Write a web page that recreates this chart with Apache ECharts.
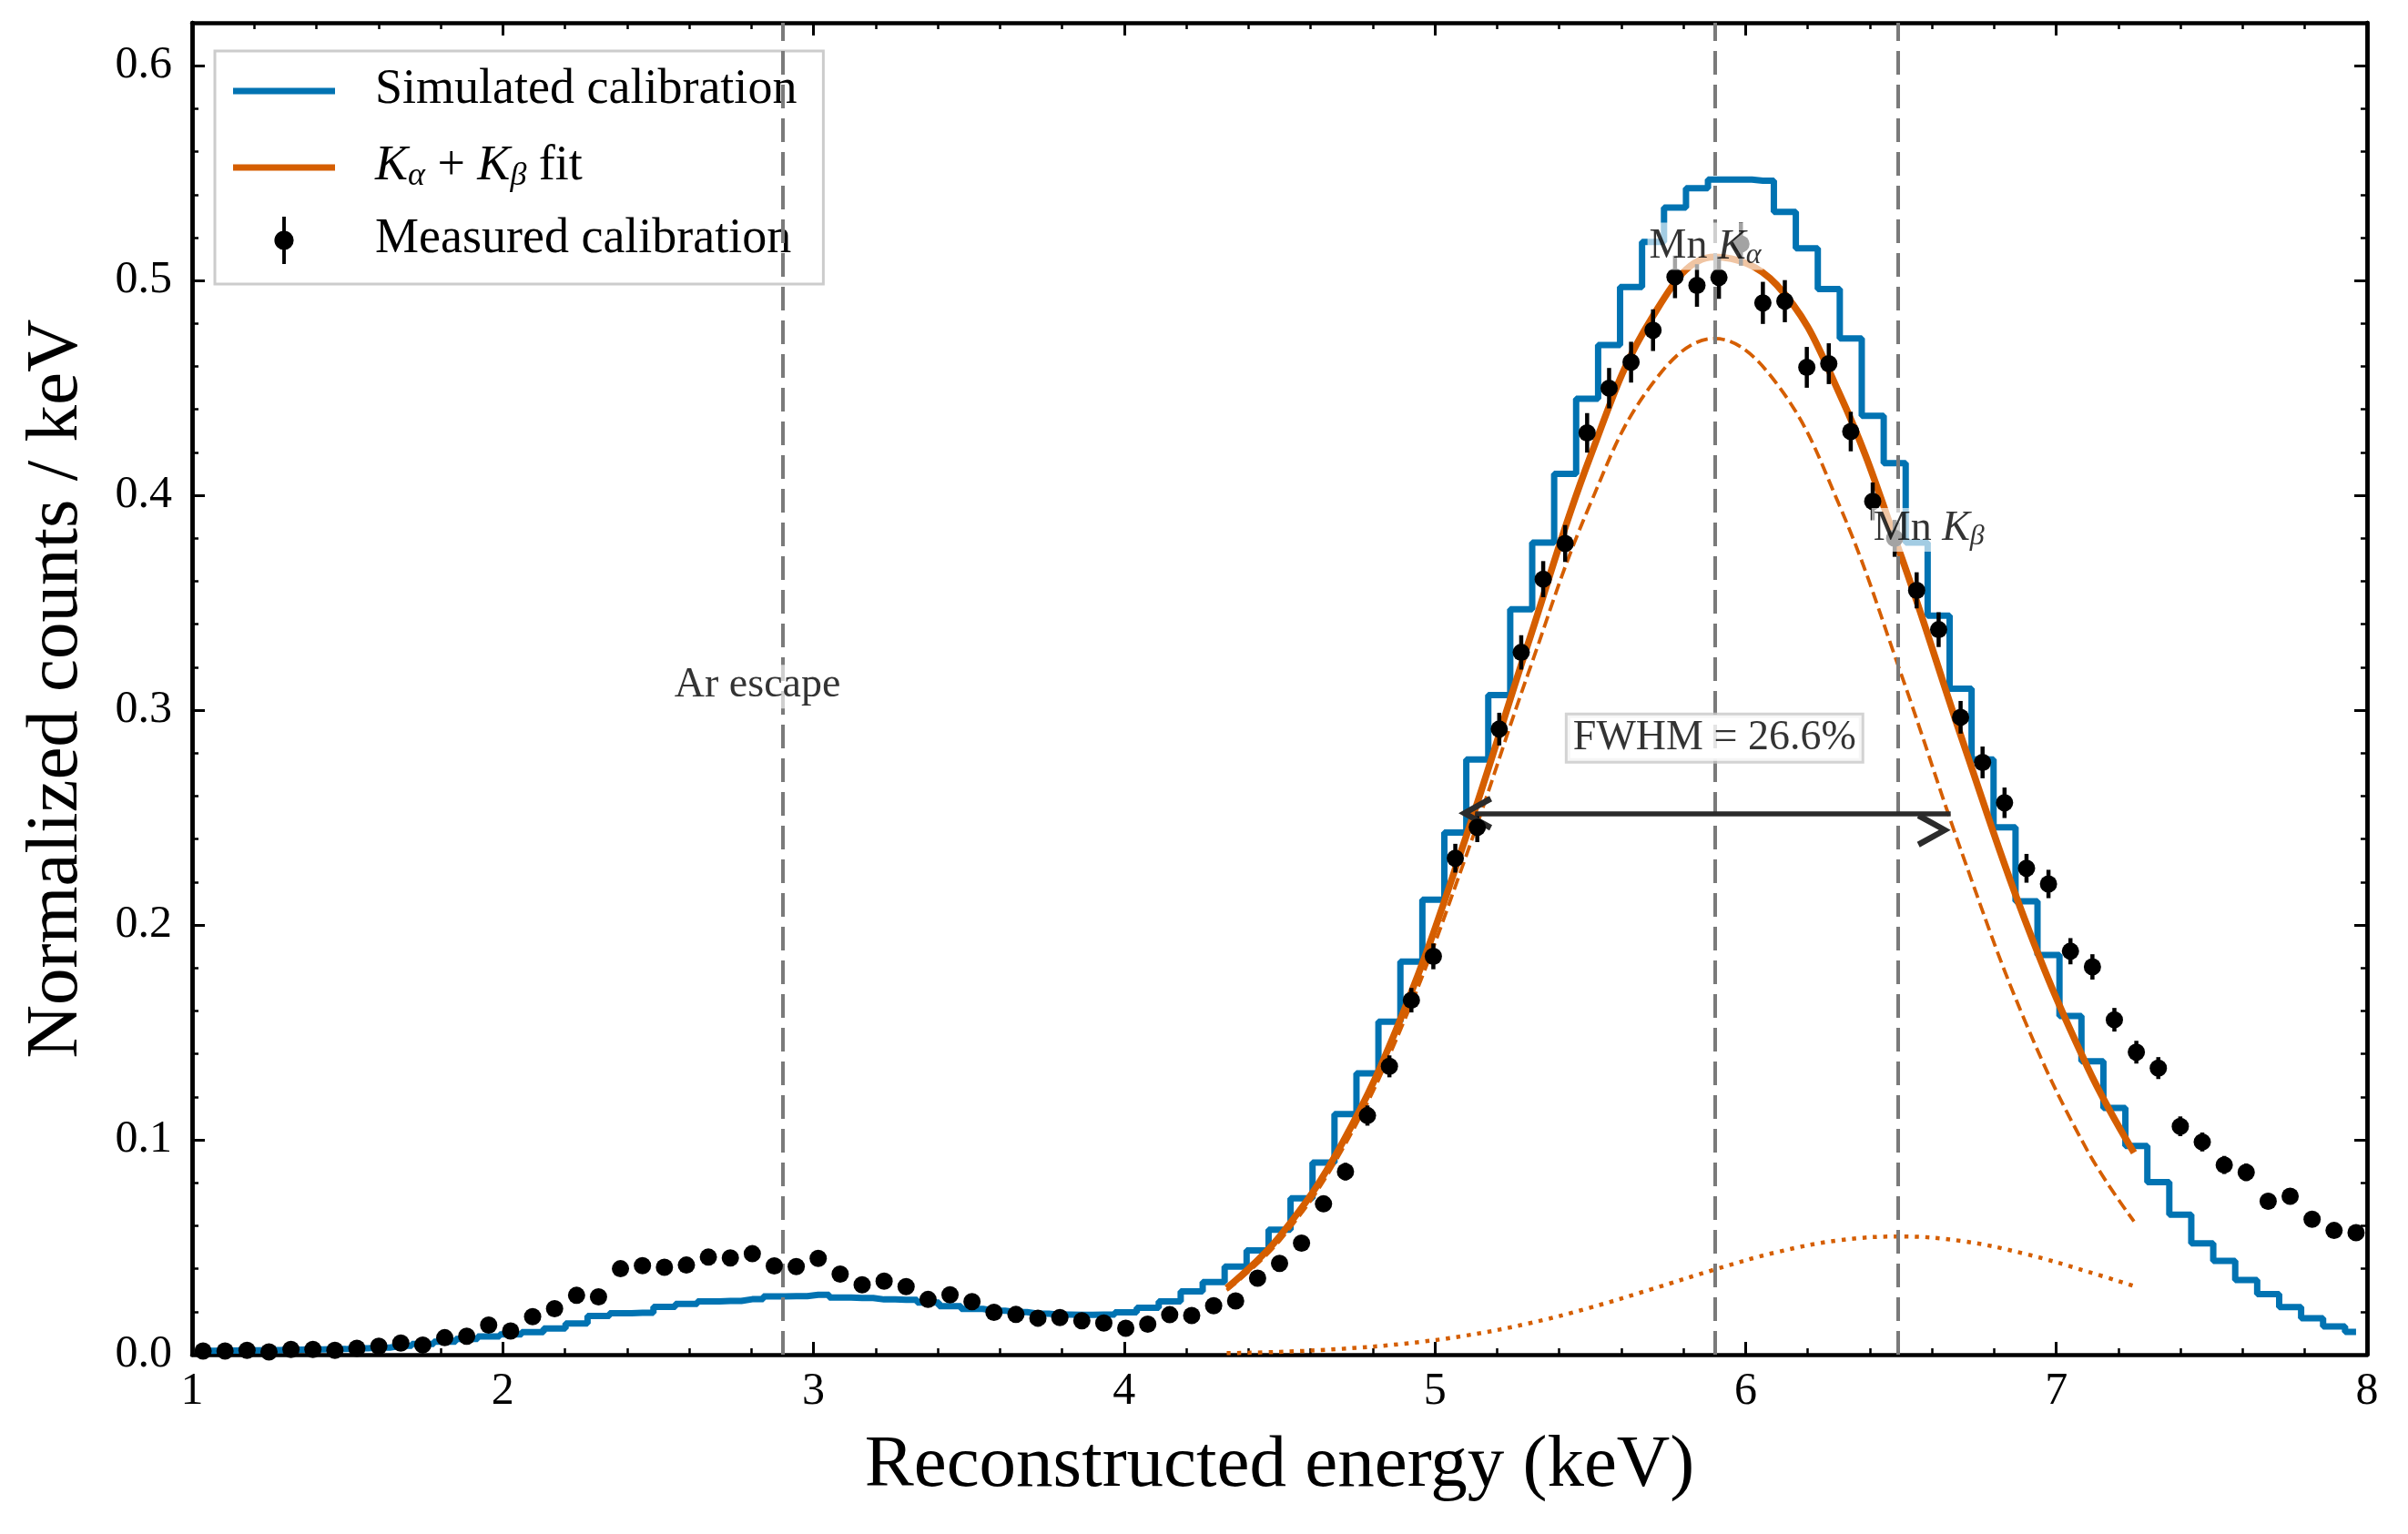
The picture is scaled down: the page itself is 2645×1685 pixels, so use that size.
<!DOCTYPE html>
<html>
<head>
<meta charset="utf-8">
<title>Calibration spectrum</title>
<script src="https://cdn.jsdelivr.net/npm/echarts@6.0.0/dist/echarts.min.js"></script>
<style>
  html, body { margin: 0; padding: 0; background: #fff; }
  #chart { width: 2645px; height: 1685px; }
</style>
</head>
<body>
<div id="chart"></div>
<script>
// energy binning (keV)
const binLo = 1
const binHi = 8

// simulated calibration histogram, one value per bin
const simulated = [
  0.0018, 0.0019, 0.0020, 0.0021, 0.0023, 0.0024, 0.0026, 0.0030, 0.0033, 0.0041,
  0.0050, 0.0060, 0.0073, 0.0085, 0.0094, 0.0105, 0.0122, 0.0145, 0.0180, 0.0193,
  0.0195, 0.0222, 0.0236, 0.0248, 0.0250, 0.0258, 0.0271, 0.0272, 0.0279, 0.0266,
  0.0264, 0.0257, 0.0255, 0.0243, 0.0226, 0.0213, 0.0205, 0.0198, 0.0191, 0.0186,
  0.0185, 0.0186, 0.0197, 0.0218, 0.0248, 0.0295, 0.0338, 0.0410, 0.0485, 0.0582,
  0.0728, 0.0894, 0.1120, 0.1310, 0.1550, 0.1830, 0.2118, 0.2430, 0.2770, 0.3070,
  0.3470, 0.3780, 0.4100, 0.4450, 0.4700, 0.4970, 0.5180, 0.5340, 0.5430, 0.5470,
  0.5470, 0.5465, 0.5320, 0.5150, 0.4960, 0.4730, 0.4370, 0.4150, 0.3780, 0.3440,
  0.3100, 0.2770, 0.2455, 0.2110, 0.1860, 0.1577, 0.1366, 0.1148, 0.0972, 0.0803,
  0.0652, 0.0518, 0.0437, 0.0348, 0.0282, 0.0221, 0.0169, 0.0131, 0.0106
]

// measured calibration, one point per bin
const measured = [
  0.0017, 0.0017, 0.0020, 0.0013, 0.0024, 0.0024, 0.0020, 0.0030, 0.0039, 0.0054,
  0.0045, 0.0079, 0.0086, 0.0138, 0.0110, 0.0177, 0.0214, 0.0276, 0.0269, 0.0400,
  0.0414, 0.0407, 0.0417, 0.0454, 0.0450, 0.0470, 0.0413, 0.0410, 0.0448, 0.0375,
  0.0325, 0.0342, 0.0317, 0.0257, 0.0279, 0.0247, 0.0197, 0.0187, 0.0170, 0.0173,
  0.0158, 0.0147, 0.0123, 0.0142, 0.0186, 0.0182, 0.0228, 0.0250, 0.0356, 0.0425,
  0.0519, 0.0702, 0.0852, 0.1113, 0.1342, 0.1650, 0.1854, 0.2311, 0.2455, 0.2912,
  0.3269, 0.3610, 0.3776, 0.4291, 0.4499, 0.4620, 0.4769, 0.5017, 0.4977, 0.5014,
  0.5170, 0.4896, 0.4904, 0.4596, 0.4613, 0.4297, 0.3972, 0.3800, 0.3558, 0.3375,
  0.2967, 0.2757, 0.2569, 0.2264, 0.2191, 0.1878, 0.1805, 0.1559, 0.1408, 0.1334,
  0.1063, 0.0990, 0.0883, 0.0849, 0.0714, 0.0737, 0.0630, 0.0578, 0.0568
]

const measuredErr = [
  0.0006, 0.0006, 0.0006, 0.0005, 0.0007, 0.0007, 0.0006, 0.0008, 0.0009, 0.0010,
  0.0009, 0.0012, 0.0013, 0.0016, 0.0015, 0.0019, 0.0020, 0.0023, 0.0023, 0.0028,
  0.0028, 0.0028, 0.0029, 0.0030, 0.0030, 0.0030, 0.0028, 0.0028, 0.0030, 0.0027,
  0.0025, 0.0026, 0.0025, 0.0022, 0.0023, 0.0022, 0.0020, 0.0019, 0.0018, 0.0018,
  0.0018, 0.0017, 0.0016, 0.0017, 0.0019, 0.0019, 0.0021, 0.0022, 0.0026, 0.0029,
  0.0032, 0.0037, 0.0041, 0.0047, 0.0051, 0.0057, 0.0060, 0.0067, 0.0069, 0.0076,
  0.0080, 0.0084, 0.0086, 0.0092, 0.0094, 0.0095, 0.0097, 0.0099, 0.0099, 0.0099,
  0.0101, 0.0098, 0.0098, 0.0095, 0.0095, 0.0092, 0.0088, 0.0086, 0.0084, 0.0081,
  0.0076, 0.0074, 0.0071, 0.0067, 0.0066, 0.0061, 0.0059, 0.0055, 0.0053, 0.0051,
  0.0046, 0.0044, 0.0042, 0.0041, 0.0037, 0.0038, 0.0035, 0.0034, 0.0033
]

// fit curves at these energies
const fitEnergy = [4.33, 4.5, 4.7, 4.9, 5.1, 5.3, 5.5, 5.7, 5.9, 6.1, 6.3, 6.5, 6.7, 6.9, 7.1, 7.25]
const fitTotal = [0.031, 0.055, 0.098, 0.160, 0.241, 0.331, 0.418, 0.483, 0.511, 0.498, 0.448, 0.372, 0.285, 0.202, 0.134, 0.094]
const fitKa = [0.030, 0.053, 0.095, 0.155, 0.232, 0.317, 0.396, 0.452, 0.473, 0.452, 0.396, 0.317, 0.232, 0.155, 0.095, 0.062]
const fitKb = [0.0007, 0.0013, 0.0027, 0.0051, 0.0089, 0.0145, 0.0219, 0.0306, 0.0396, 0.0477, 0.0532, 0.0550, 0.0528, 0.0469, 0.0387, 0.0319]

// reference energies (Ar escape, Mn Ka, Mn Kb)
const lineEnergy = [2.9, 5.9, 6.49]

const nBins = simulated.length
const binWidth = (binHi - binLo) / nBins
const energy = simulated.map((_, i) => binLo + (i + 0.5) * binWidth)

const FONT = "'Liberation Serif', 'DejaVu Serif', serif"
const BLUE = '#0173b2'
const ORANGE = '#d55e00'
const fitName = 'Kα + Kβ fit'

// axes: thick frame, ticks pointing inward on all four sides
const frameLine = { show: true, onZero: false, lineStyle: { color: '#000', width: 4.5 } }
const majorTick = { show: true, inside: true, length: 14, lineStyle: { color: '#000', width: 3 } }
const minorTickY = { show: true, inside: true, length: 7, lineStyle: { color: '#000', width: 2.5 } }

function xAxisAt (position, withLabels) {
  return {
    type: 'value',
    position: position,
    min: 1,
    max: 8,
    interval: 1,
    axisLine: frameLine,
    axisTick: majorTick,
    minorTick: { show: true, splitNumber: 5, length: 7, lineStyle: { color: '#000', width: 2.5 } },
    splitLine: { show: false },
    minorSplitLine: { show: false },
    axisLabel: withLabels
      ? { show: true, margin: 16, fontSize: 50, fontFamily: FONT, color: '#000' }
      : { show: false },
    name: withLabels ? 'Reconstructed energy (keV)' : '',
    nameLocation: 'middle',
    nameGap: 82,
    nameTextStyle: { fontSize: 81, fontFamily: FONT, color: '#000' }
  }
}

function yAxisAt (position, step, tick, withLabels) {
  return {
    type: 'value',
    position: position,
    min: 0,
    max: 0.62,
    interval: step,
    axisLine: frameLine,
    axisTick: tick,
    splitLine: { show: false },
    axisLabel: withLabels
      ? {
          show: true, margin: 22, fontSize: 50, fontFamily: FONT, color: '#000',
          formatter: v => (Math.abs(v * 10 - Math.round(v * 10)) < 1e-6 && v < 0.61) ? v.toFixed(1) : ''
        }
      : { show: false },
    name: withLabels ? 'Normalized counts / keV' : '',
    nameLocation: 'middle',
    nameGap: 108,
    nameTextStyle: { fontSize: 81, fontFamily: FONT, color: '#000' }
  }
}

// text styles for labels with italic K and subscripts
function richStyles (size, subSize, subPad) {
  return {
    n: { fontFamily: FONT, fontSize: size, lineHeight: size + 2, verticalAlign: 'top', color: '#000' },
    k: { fontFamily: FONT, fontSize: size, lineHeight: size + 2, verticalAlign: 'top', fontStyle: 'italic', color: '#000' },
    s: { fontFamily: FONT, fontSize: subSize, lineHeight: subSize, padding: [subPad, 0, 0, 0], verticalAlign: 'bottom', fontStyle: 'italic', color: '#000' }
  }
}

const chevron = 'path://M0,0L19,34L13,37L0,13L-13,37L-19,34Z'
const barIcon = 'path://M0,0H112V7H0Z'
const errIcon = 'path://M-2,0H2V54H-2Z M0,16A11,11 0 1 1 0,38A11,11 0 1 1 0,16Z'

const chart = echarts.init(document.getElementById('chart'), null, { renderer: 'canvas' })

const option = {
  animation: false,
  backgroundColor: '#fff',
  grid: { left: 211, right: 45, top: 25, bottom: 197, containLabel: false, outerBoundsMode: 'none' },
  xAxis: [xAxisAt('bottom', true), xAxisAt('top', false)],
  yAxis: [
    yAxisAt('left', 0.1, majorTick, true),
    yAxisAt('left', 0.02, minorTickY, false),
    yAxisAt('right', 0.1, majorTick, false),
    yAxisAt('right', 0.02, minorTickY, false)
  ],
  legend: {
    orient: 'vertical',
    left: 236,
    top: 56,
    padding: [16, 29, 22, 20],
    itemWidth: 112,
    itemHeight: 52,
    itemGap: 24,
    symbolKeepAspect: true,
    selectedMode: false,
    backgroundColor: 'rgba(255,255,255,0.8)',
    borderColor: '#cccccc',
    borderWidth: 3,
    borderRadius: 0,
    textStyle: {
      fontFamily: FONT, fontSize: 54, color: '#000', padding: [0, 0, 0, 39],
      rich: richStyles(54, 36, 26)
    },
    formatter: name => name === fitName
      ? '{k|K}{s|α}{n| + }{k|K}{s|β}{n| fit}'
      : '{n|' + name + '}',
    data: [
      { name: 'Simulated calibration', icon: barIcon, itemStyle: { color: BLUE } },
      { name: fitName, icon: barIcon, itemStyle: { color: ORANGE } },
      { name: 'Measured calibration', icon: errIcon, itemStyle: { color: '#000' } }
    ]
  },
  series: [
    {
      // vertical reference lines
      name: 'reference lines',
      type: 'line',
      data: [],
      z: 1,
      markLine: {
        silent: true,
        symbol: 'none',
        label: { show: false },
        lineStyle: { color: '#7a7a7a', width: 4, type: [26, 11] },
        data: lineEnergy.map(x => ({ xAxis: x }))
      }
    },
    {
      name: 'Simulated calibration',
      type: 'line',
      step: 'middle',
      symbol: 'none',
      z: 2,
      lineStyle: { color: BLUE, width: 7 },
      itemStyle: { color: BLUE },
      data: energy.map((x, i) => [x, simulated[i]])
    },
    {
      name: 'Kα component',
      type: 'line',
      smooth: 0.4,
      symbol: 'none',
      z: 3,
      lineStyle: { color: ORANGE, width: 3.8, type: [13, 6] },
      data: fitEnergy.map((x, i) => [x, fitKa[i]])
    },
    {
      name: 'Kβ component',
      type: 'line',
      smooth: 0.4,
      symbol: 'none',
      z: 3,
      lineStyle: { color: ORANGE, width: 4.5, type: [4.5, 7] },
      data: fitEnergy.map((x, i) => [x, fitKb[i]])
    },
    {
      name: fitName,
      type: 'line',
      smooth: 0.4,
      symbol: 'none',
      z: 3,
      lineStyle: { color: ORANGE, width: 7.5 },
      itemStyle: { color: ORANGE },
      data: fitEnergy.map((x, i) => [x, fitTotal[i]]),
      // FWHM arrow
      markLine: {
        silent: true,
        symbol: [chevron, chevron],
        symbolSize: [38, 37],
        symbolOffset: [0, 18.5],
        label: { show: false },
        lineStyle: { color: '#2b2b2b', width: 5.5, type: 'solid' },
        data: [[{ coord: [5.13, 0.252] }, { coord: [6.66, 0.252] }]]
      }
    },
    {
      name: 'error bars',
      type: 'custom',
      z: 4,
      data: energy.map((x, i) => [x, measured[i], measuredErr[i]]),
      renderItem: (params, api) => {
        const lo = api.coord([api.value(0), api.value(1) - api.value(2)])
        const hi = api.coord([api.value(0), api.value(1) + api.value(2)])
        return {
          type: 'line',
          shape: { x1: lo[0], y1: lo[1], x2: hi[0], y2: hi[1] },
          style: { stroke: '#000', lineWidth: 4.5 }
        }
      }
    },
    {
      name: 'Measured calibration',
      type: 'scatter',
      symbol: 'circle',
      symbolSize: 19,
      z: 5,
      itemStyle: { color: '#000', opacity: 1 },
      data: energy.map((x, i) => [x, measured[i]])
    },
    {
      // text annotations
      name: 'notes',
      type: 'scatter',
      symbolSize: 1,
      z: 10,
      silent: true,
      itemStyle: { color: 'rgba(0,0,0,0)' },
      label: { show: true, position: 'inside', rich: richStyles(46, 32, 20) },
      data: [
        { value: [2.82, 0.311], label: { formatter: '{n|Ar escape}', backgroundColor: 'rgba(255,255,255,0.8)', padding: [0, 2] } },
        { value: [5.87, 0.516], label: { formatter: '{n|Mn }{k|K}{s|α}', backgroundColor: 'rgba(255,255,255,0.8)', padding: [4, 2, 0, 2] } },
        { value: [6.59, 0.384], label: { formatter: '{n|Mn }{k|K}{s|β}', backgroundColor: 'rgba(255,255,255,0.8)', padding: [0, 2] } },
        { value: [5.9, 0.287], label: { formatter: '{n|FWHM = 26.6%}', backgroundColor: '#fff', borderColor: '#c8c8c8', borderWidth: 3, padding: [2, 6, 0, 6] } }
      ]
    }
  ]
}

chart.setOption(option)
</script>
</body>
</html>
